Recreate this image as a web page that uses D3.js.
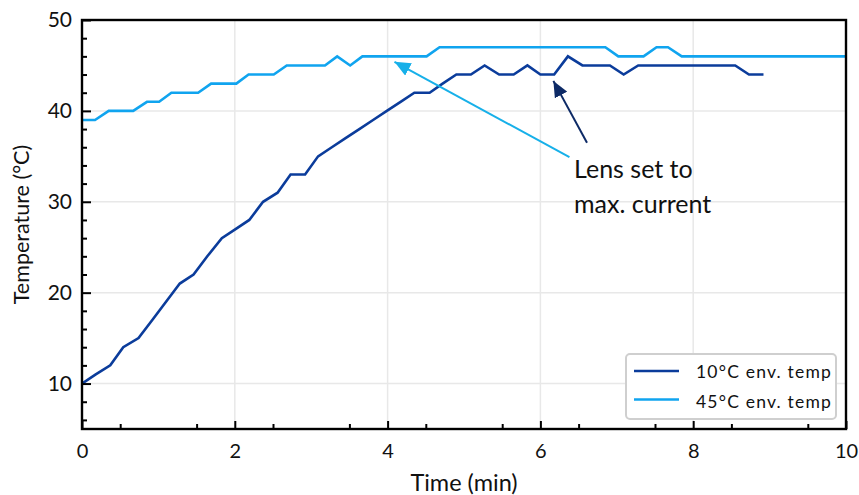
<!DOCTYPE html>
<html>
<head>
<meta charset="utf-8">
<script src="https://cdn.jsdelivr.net/npm/d3@7"></script>
<style>
  body { margin: 0; background: #fff; }
  text { font-family: Lato, "Open Sans", sans-serif; fill: #111; }
</style>
</head>
<body>
<div id="chart"></div>
<script>
// Data (time in minutes, temperature in °C)
var seriesNames = ["10°C env. temp", "45°C env. temp"];
var seriesColors = ["#0b3c9b", "#10a4ef"];

var coldTime = [0, 0.18, 0.37, 0.54, 0.74, 0.92, 1.1, 1.28, 1.46, 1.64, 1.83, 2.01, 2.19, 2.37, 2.56, 2.73, 2.92, 3.09,
                3.27, 3.45, 3.63, 3.81, 3.99, 4.17, 4.35, 4.55, 4.72, 4.9, 5.09, 5.27, 5.46, 5.65, 5.83, 6.0, 6.18,
                6.36, 6.55, 6.91, 7.09, 7.28, 8.55, 8.73, 8.92];
var coldTemp = [10, 11, 12, 14, 15, 17, 19, 21, 22, 24, 26, 27, 28, 30, 31, 33, 33, 35,
                36, 37, 38, 39, 40, 41, 42, 42, 43, 44, 44, 45, 44, 44, 45, 44, 44,
                46, 45, 45, 44, 45, 45, 44, 44];

var hotTime = [0, 0.17, 0.35, 0.67, 0.85, 1.01, 1.17, 1.52, 1.69, 2.02, 2.18, 2.51, 2.68, 3.18, 3.34, 3.51, 3.67,
               4.51, 4.68, 6.85, 7.02, 7.35, 7.52, 7.67, 7.85, 10];
var hotTemp = [39, 39, 40, 40, 41, 41, 42, 42, 43, 43, 44, 44, 45, 45, 46, 45, 46,
               46, 47, 47, 46, 46, 47, 47, 46, 46];

var xTicks = [0, 2, 4, 6, 8, 10];
var yTicks = [10, 20, 30, 40, 50];

// Annotation: text anchor and arrows (tail -> tip) in data units
var noteLines = ["Lens set to", "max. current"];
var noteAt = [6.44, 32.6];
var arrowTails = [[6.38, 34.9], [6.61, 36.5]];
var arrowTips = [[4.09, 45.4], [6.17, 43.3]];
var arrowColors = ["#17b0e9", "#0d2a66"];

// Set graph margins and dimensions
var margin = {top: 20, right: 13, bottom: 66, left: 82},
    width = 859 - margin.left - margin.right,
    height = 495 - margin.top - margin.bottom;

var x = d3.scaleLinear().domain([0, 10]).range([0, width]);
var y = d3.scaleLinear().domain([5, 50]).range([height, 0]);

var svg = d3.select("#chart").append("svg")
    .attr("width", 859)
    .attr("height", 495)
  .append("g")
    .attr("transform", "translate(" + margin.left + "," + margin.top + ")");

// arrow heads
var defs = svg.append("defs");
arrowColors.forEach(function(c, i) {
  defs.append("marker")
      .attr("id", "head" + i)
      .attr("markerUnits", "userSpaceOnUse")
      .attr("viewBox", "0 -7 16 14")
      .attr("refX", 16).attr("refY", 0)
      .attr("markerWidth", 16).attr("markerHeight", 14)
      .attr("orient", "auto")
    .append("path")
      .attr("d", "M0,-7L16,0L0,7Z")
      .attr("fill", c);
});

// grid
svg.append("g").selectAll("line")
    .data(xTicks.slice(1, -1))
  .enter().append("line")
    .attr("x1", function(d) { return x(d); }).attr("x2", function(d) { return x(d); })
    .attr("y1", 0).attr("y2", height)
    .attr("stroke", "#e8e8e8").attr("stroke-width", 1.5);
svg.append("g").selectAll("line")
    .data(yTicks.slice(0, -1))
  .enter().append("line")
    .attr("x1", 0).attr("x2", width)
    .attr("y1", function(d) { return y(d); }).attr("y2", function(d) { return y(d); })
    .attr("stroke", "#e8e8e8").attr("stroke-width", 1.5);

// lines
var line = d3.line()
    .x(function(d) { return x(d[0]); })
    .y(function(d) { return y(d[1]); });

var series = [d3.zip(coldTime, coldTemp), d3.zip(hotTime, hotTemp)];
svg.selectAll(".series")
    .data(series)
  .enter().append("path")
    .attr("class", "series")
    .attr("d", line)
    .attr("fill", "none")
    .attr("stroke", function(d, i) { return seriesColors[i]; })
    .attr("stroke-width", 2.6)
    .attr("stroke-linejoin", "miter");

// minor ticks
svg.append("g")
    .attr("transform", "translate(0," + height + ")")
    .call(d3.axisBottom(x).tickValues(d3.range(0.5, 10, 1)).tickSize(-5).tickFormat(""))
    .call(function(g) { g.select(".domain").remove(); })
    .selectAll("line").attr("stroke-width", 2);
svg.append("g")
    .call(d3.axisLeft(y).tickValues([6, 8, 12, 14, 16, 18, 22, 24, 26, 28, 32, 34, 36, 38, 42, 44, 46, 48]).tickSize(-5).tickFormat(""))
    .call(function(g) { g.select(".domain").remove(); })
    .selectAll("line").attr("stroke-width", 2);

// major ticks + labels
var xAxis = svg.append("g")
    .attr("transform", "translate(0," + height + ")")
    .call(d3.axisBottom(x).tickValues(xTicks).tickSize(-8).tickPadding(15));
xAxis.select(".domain").remove();
xAxis.selectAll("line").attr("stroke-width", 2);
xAxis.selectAll("text").style("font-size", "20px").attr("fill", "#111");

var yAxis = svg.append("g")
    .call(d3.axisLeft(y).tickValues(yTicks).tickSize(-9).tickPadding(10));
yAxis.select(".domain").remove();
yAxis.selectAll("line").attr("stroke-width", 2);
yAxis.selectAll("text").style("font-size", "21px").attr("fill", "#111");

// frame
svg.append("rect")
    .attr("width", width).attr("height", height)
    .attr("fill", "none").attr("stroke", "#000").attr("stroke-width", 2.4);

// axis titles
svg.append("text")
    .attr("x", width / 2).attr("y", height + 62)
    .style("text-anchor", "middle").style("font-size", "23.5px")
    .text("Time (min)");
svg.append("text")
    .attr("transform", "rotate(-90)")
    .attr("x", -height / 2).attr("y", -53)
    .style("text-anchor", "middle").style("font-size", "21.5px")
    .text("Temperature (°C)");

// annotation
svg.selectAll(".arrow")
    .data(arrowTails)
  .enter().append("line")
    .attr("class", "arrow")
    .attr("x1", function(d) { return x(d[0]); }).attr("y1", function(d) { return y(d[1]); })
    .attr("x2", function(d, i) { return x(arrowTips[i][0]); })
    .attr("y2", function(d, i) { return y(arrowTips[i][1]); })
    .attr("stroke", function(d, i) { return arrowColors[i]; })
    .attr("stroke-width", 2)
    .attr("marker-end", function(d, i) { return "url(#head" + i + ")"; });

svg.append("g").selectAll("text")
    .data(noteLines)
  .enter().append("text")
    .attr("x", x(noteAt[0]))
    .attr("y", function(d, i) { return y(noteAt[1]) + i * 35; })
    .style("font-size", "25px")
    .text(function(d) { return d; });

// legend
var legend = svg.append("g")
    .attr("transform", "translate(" + (width - 220) + "," + (height - 75) + ")");
legend.append("rect")
    .attr("width", 210).attr("height", 65).attr("rx", 4)
    .attr("fill", "#fff").attr("stroke", "#cfcfcf").attr("stroke-width", 2);
seriesNames.forEach(function(name, i) {
  legend.append("line")
      .attr("x1", 8).attr("x2", 53)
      .attr("y1", 17 + i * 28.5).attr("y2", 17 + i * 28.5)
      .attr("stroke", seriesColors[i]).attr("stroke-width", 2.6);
  legend.append("text")
      .attr("x", 70).attr("y", 24 + i * 29.5)
      .style("font-size", "17.5px")
      .style("letter-spacing", "1.2px")
      .text(name);
});
</script>
</body>
</html>
